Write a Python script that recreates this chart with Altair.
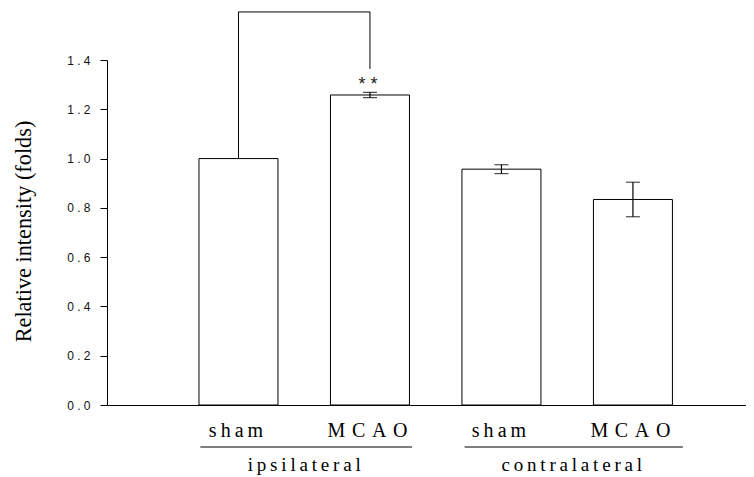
import json
import altair as alt
import pandas as pd

# ---- data ----
groups = ["ipsilateral", "ipsilateral", "contralateral", "contralateral"]
conditions = ["sham", "MCAO", "sham", "MCAO"]
values = [1.0, 1.258, 0.957, 0.834]
errors = [0.0, 0.011, 0.018, 0.070]
signif = ["", "**", "", ""]
positions = [0, 1, 2, 3]
y_ticks = [0.0, 0.2, 0.4, 0.6, 0.8, 1.0, 1.2, 1.4]

group_names = ["ipsilateral", "contralateral"]
group_x0 = [-0.29, 1.72]
group_x1 = [1.32, 3.38]

# significance bracket (data units)
bracket_from, bracket_to = 0, 1
bracket_top = 1.595
bracket_left_bottom = 1.0
bracket_right_bottom = 1.364

THIN = "\u2009"
THREE = "\u2004"


def spaced(s, sep):
    return sep.join(s)


cond_labels = [spaced(c, THIN) if c.islower() else spaced(c, THREE) for c in conditions]

df = pd.DataFrame({"pos": positions, "value": values, "err": errors,
                   "group": groups, "cond": conditions, "sig": signif})
df["lo"] = df["value"] - df["err"]
df["hi"] = df["value"] + df["err"]
err_df = df[df["err"] > 0]
sig_df = df[df["sig"] != ""].copy()
sig_df["sig_txt"] = sig_df["sig"].apply(lambda s: " ".join(s))

grp_df = pd.DataFrame({"name": [spaced(g, THIN) for g in group_names],
                       "x0": group_x0, "x1": group_x1})
grp_df["mid"] = (grp_df["x0"] + grp_df["x1"]) / 2

br_df = pd.DataFrame({
    "x": [bracket_from, bracket_from, bracket_to],
    "x2": [bracket_from, bracket_to, bracket_to],
    "y": [bracket_left_bottom, bracket_top, bracket_right_bottom],
    "y2": [bracket_top, bracket_top, bracket_top],
})

x_scale = alt.Scale(domain=[-1, 3.86], nice=False, zero=False, padding=0)
y_scale = alt.Scale(domain=[0, 1.4], nice=False, zero=False, padding=0)

x_label_expr = json.dumps(cond_labels, ensure_ascii=False) + "[datum.value]"

x_axis = alt.Axis(
    values=positions, labelExpr=x_label_expr, ticks=False, tickSize=0,
    domain=True, domainColor="black", domainWidth=1, grid=False,
    labelFont="Liberation Serif", labelFontSize=20, labelColor="black",
    labelFontWeight="normal", labelOffset=-3,
    labelBaseline="alphabetic", labelPadding=31,
    labelOverlap=False, labelFlush=False, title=None)
y_axis = alt.Axis(
    values=y_ticks, labelExpr="replace(format(datum.value, '.1f'), '.', ' . ')",
    tickSize=7, tickColor="black", tickWidth=1, domainColor="black", domainWidth=1,
    grid=False, labelFont="Liberation Sans", labelFontSize=12, labelColor="#111",
    labelFontWeight="normal", labelPadding=10, title="Relative intensity (folds)",
    titleFont="Liberation Serif", titleFontSize=22.3, titleFontWeight="normal",
    titleColor="black", titleX=-84, titleY=171, titleAlign="center",
    titleBaseline="middle")


def X(field):
    return alt.X(field, scale=x_scale, axis=x_axis)


def Y(field):
    return alt.Y(field, scale=y_scale, axis=y_axis)


bars = alt.Chart(df).mark_bar(size=79, fill="white", stroke="black", strokeWidth=1).encode(
    x=X("pos:Q"), y=Y("value:Q"),
)

err_rule = alt.Chart(err_df).mark_rule(color="black", strokeWidth=1.2).encode(
    x=X("pos:Q"), y=Y("lo:Q"), y2="hi:Q",
)
cap_lo = alt.Chart(err_df).mark_tick(orient="horizontal", size=14, thickness=1.2, color="black").encode(
    x=X("pos:Q"), y=Y("lo:Q"),
)
cap_hi = alt.Chart(err_df).mark_tick(orient="horizontal", size=14, thickness=1.2, color="black").encode(
    x=X("pos:Q"), y=Y("hi:Q"),
)

stars = alt.Chart(sig_df).mark_text(font="Liberation Sans", fontSize=18, color="#222",
                                    baseline="alphabetic", align="center", dy=-2, dx=-2).encode(
    x=X("pos:Q"), y=Y("hi:Q"), text="sig_txt:N",
)

bracket = alt.Chart(br_df).mark_rule(color="black", strokeWidth=1).encode(
    x=X("x:Q"), x2="x2:Q", y=Y("y:Q"), y2="y2:Q",
)

underline = alt.Chart(grp_df).mark_rule(color="black", strokeWidth=1).encode(
    x=X("x0:Q"), x2="x1:Q", y=alt.value(387),
)
grp_text = alt.Chart(grp_df).mark_text(font="Liberation Serif", fontSize=19, color="black",
                                       baseline="alphabetic", align="center", dx=-2).encode(
    x=X("mid:Q"), y=alt.value(411), text="name:N",
)

chart = alt.layer(bars, err_rule, cap_lo, cap_hi, stars, bracket, underline, grp_text).properties(
    width=639, height=345,
    autosize=alt.AutoSizeParams(type="none"),
    padding={"left": 99, "top": 52, "right": 0, "bottom": 71},
    background="white",
).configure_view(stroke=None)

chart.save("out.html", embed_options={"renderer": "svg", "actions": False})
